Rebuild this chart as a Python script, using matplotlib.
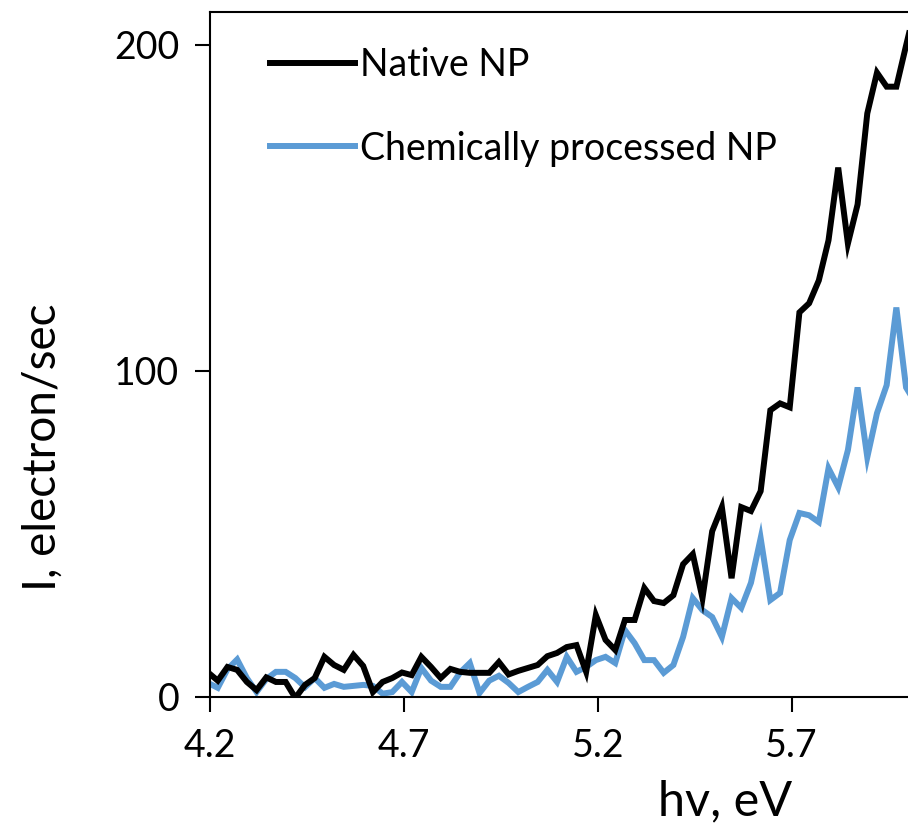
import numpy as np
import matplotlib
matplotlib.use("Agg")
import matplotlib.pyplot as plt

plt.rcParams['font.family'] = ['Lato', 'DejaVu Sans']

# photon energy grid, eV (first and last points run just past the axis limits)
hv = np.linspace(4.195, 6.02, 74)

# photoemission yield, electron/sec
native_np = [
    7.5, 5.0, 9.2, 8.3, 4.6, 2.1, 6.0, 4.6, 4.6, -0.3,
    3.7, 5.8, 12.3, 9.8, 8.3, 12.9, 9.5, 1.5, 4.6, 5.8,
    7.5, 6.7, 12.3, 9.2, 5.8, 8.6, 7.7, 7.4, 7.4, 7.4,
    10.7, 6.9, 8.0, 8.9, 9.8, 12.5, 13.5, 15.3, 15.9, 7.7,
    25.1, 17.5, 14.4, 23.6, 23.6, 33.4, 29.4, 28.8, 31.2, 40.7,
    43.8, 30.3, 50.8, 58.2, 36.4, 58.2, 57.0, 63.1, 87.9, 90.0,
    88.8, 117.9, 120.7, 127.7, 140.0, 162.3, 139.0, 151.0, 178.9, 191.4,
    187.1, 187.1, 199.7, 212.0,
]

processed_np = [
    4.3, 2.8, 8.5, 11.5, 5.8, 1.5, 5.5, 7.7, 7.7, 5.8,
    3.0, 5.8, 2.8, 4.0, 3.1, 3.4, 3.7, 3.4, 1.0, 1.5,
    4.6, 1.5, 8.9, 5.0, 3.1, 3.1, 7.5, 10.4, 1.2, 5.0,
    6.5, 4.3, 1.5, 3.1, 4.6, 8.3, 4.6, 12.3, 7.7, 9.2,
    11.3, 12.3, 10.4, 20.5, 16.5, 11.3, 11.3, 7.4, 9.8, 18.4,
    30.3, 26.6, 24.5, 18.4, 30.3, 27.3, 35.0, 48.7, 29.7, 31.9,
    48.1, 56.4, 55.7, 53.6, 70.1, 64.3, 75.7, 94.9, 73.5, 87.0,
    95.6, 119.4, 94.9, 90.0,
]

series_labels = ["Native NP", "Chemically processed NP"]
xticks = [4.2, 4.7, 5.2, 5.7]
yticks = [0, 100, 200]

fig = plt.figure(figsize=(9.08, 8.32), dpi=100)
ax = fig.add_axes([0.2313, 0.1623, 0.7687, 0.8233])

l1, = ax.plot(hv, native_np, color="black", lw=4.3, zorder=3, solid_joinstyle="miter")
l2, = ax.plot(hv, processed_np, color="#5B9BD5", lw=4.3, zorder=2, solid_joinstyle="miter")

ax.set_xlim(4.2, 6.0)
ax.set_ylim(0, 210)
ax.set_xticks(xticks)
ax.set_xticklabels([f"{t:.1f}" for t in xticks])
ax.set_yticks(yticks)

ax.spines["right"].set_visible(False)
for s in ["left", "bottom", "top"]:
    ax.spines[s].set_linewidth(1.5)
ax.tick_params(direction="out", length=11, width=1.5, labelsize=27, pad=11)

ax.set_ylabel("I, electron/sec", fontsize=33)
ax.yaxis.set_label_coords(-0.21, 0.365)
ax.set_xlabel("hv, eV", fontsize=35)
ax.xaxis.set_label_coords(0.738, -0.12)

ax.legend([l1, l2], series_labels, loc="upper left", bbox_to_anchor=(0.086, 0.949),
          frameon=False, fontsize=27, handlelength=2.27, handletextpad=0.13,
          labelspacing=1.27, borderpad=0, borderaxespad=0)

fig.savefig("out.png", dpi=100)
